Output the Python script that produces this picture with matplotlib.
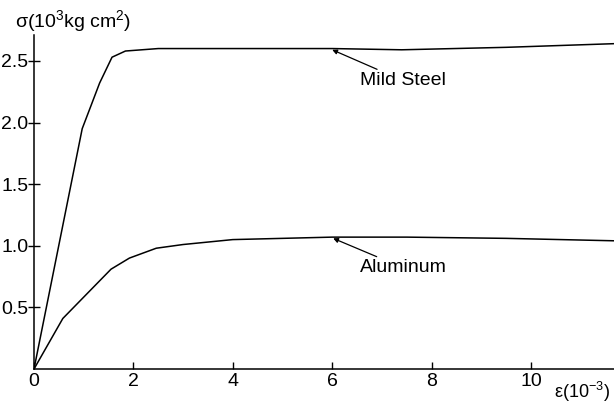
import matplotlib
matplotlib.use("Agg")
import matplotlib.pyplot as plt

# stress-strain readings, strain in 1e-3, stress in 1e3 kg/cm2
steel_strain = [0, 0.97, 1.15, 1.32, 1.57, 1.84, 2.5, 4.3, 6.0, 7.4, 9.5, 11.7]
steel_stress = [0, 1.95, 2.14, 2.32, 2.53, 2.58, 2.60, 2.60, 2.60, 2.59, 2.61, 2.64]

al_strain = [0, 0.58, 1.55, 1.92, 2.46, 3.0, 4.0, 5.0, 6.0, 7.5, 9.5, 11.7]
al_stress = [0, 0.41, 0.81, 0.90, 0.98, 1.01, 1.05, 1.06, 1.07, 1.07, 1.06, 1.04]

x_ticks = [0, 2, 4, 6, 8, 10]
y_ticks = [0.5, 1.0, 1.5, 2.0, 2.5]

plt.rcParams['font.family'] = ['Liberation Sans', 'DejaVu Sans']
plt.rcParams['mathtext.fontset'] = 'custom'
plt.rcParams['mathtext.rm'] = 'Liberation Sans'

fig = plt.figure(figsize=(6.14, 4.03), dpi=100)
ax = fig.add_axes([34/614, 34/403, 580/614, 334/403])

ax.plot(steel_strain, steel_stress, color='black', lw=1.1)
ax.plot(al_strain, al_stress, color='black', lw=1.1)

ax.set_xlim(0, 11.67)
ax.set_ylim(0, 2.71)
ax.set_xticks(x_ticks)
ax.set_yticks(y_ticks)
ax.set_yticklabels(["%.1f" % v for v in y_ticks])

for side in ('top', 'right'):
    ax.spines[side].set_visible(False)
for side in ('left', 'bottom'):
    ax.spines[side].set_linewidth(1.1)

ax.tick_params(axis='x', direction='in', length=5, width=1, labelsize=14, pad=3)
ax.tick_params(axis='y', direction='inout', length=8, width=1, labelsize=14, pad=0)

# labels with pointers onto the curves
arrow = dict(arrowstyle='-|>', color='black', lw=0.9, mutation_scale=7, shrinkA=0, shrinkB=0)
ax.annotate("Mild Steel", xy=(6.0, 2.59), xytext=(6.56, 2.34), fontsize=14,
            ha='left', va='center', arrowprops=arrow)
ax.annotate("Aluminum", xy=(6.02, 1.06), xytext=(6.56, 0.82), fontsize=14,
            ha='left', va='center', arrowprops=arrow)

fig.text(15/614, 1 - 22/403, r"σ(10$^{\mathrm{3}}$kg cm$^{\mathrm{2}}$)", fontsize=14,
         ha='left', va='center')
fig.text(610/614, 1 - 392/403, r"ε(10$^{\mathrm{-3}}$)", fontsize=13,
         ha='right', va='center')

fig.savefig("out.png", dpi=100, facecolor='white')
